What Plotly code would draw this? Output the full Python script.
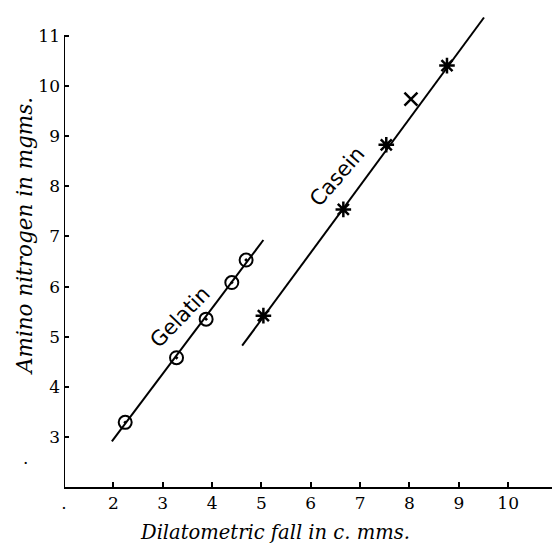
import plotly.graph_objects as go

# Gelatin observations
gelatin_x = [2.24, 3.28, 3.88, 4.40, 4.69]
gelatin_y = [3.29, 4.58, 5.35, 6.08, 6.53]
# Gelatin fitted line endpoints
gelatin_fit_x = [1.97, 5.04]
gelatin_fit_y = [2.91, 6.93]

# Casein observations
casein_x = [5.04, 6.66, 7.53, 8.03, 8.76]
casein_y = [5.42, 7.54, 8.83, 9.74, 10.41]
casein_symbols = ["asterisk-open", "asterisk-open", "asterisk-open", "x-thin-open", "asterisk-open"]
# Casein fitted line endpoints
casein_fit_x = [4.61, 9.51]
casein_fit_y = [4.82, 11.37]

x_ticks = [1, 2, 3, 4, 5, 6, 7, 8, 9, 10]
x_ticktext = [".", "2", "3", "4", "5", "6", "7", "8", "9", "10"]
y_ticks = [3, 4, 5, 6, 7, 8, 9, 10, 11]
y_ticktext = ["3", "4", "5", "6", "7", "8", "9", "10", "11"]

X_RANGE = [1, 11.05]
Y_RANGE = [2, 11.56]

serif = "DejaVu Serif"

fig = go.Figure()

fig.add_trace(go.Scatter(x=gelatin_fit_x, y=gelatin_fit_y, mode="lines",
                         line=dict(color="black", width=2), showlegend=False, hoverinfo="skip"))
fig.add_trace(go.Scatter(x=casein_fit_x, y=casein_fit_y, mode="lines",
                         line=dict(color="black", width=2), showlegend=False, hoverinfo="skip"))

fig.add_trace(go.Scatter(x=gelatin_x, y=gelatin_y, mode="markers", name="Gelatin",
                         marker=dict(symbol="circle-open-dot", size=13, color="black",
                                     line=dict(color="black", width=2)),
                         showlegend=False))
fig.add_trace(go.Scatter(x=casein_x, y=casein_y, mode="markers", name="Casein",
                         marker=dict(symbol=casein_symbols, size=13, color="black",
                                     line=dict(color="black", width=2.5)),
                         showlegend=False))

# y axis line stopping at 11
fig.add_shape(type="line", xref="x", yref="y", x0=1, x1=1, y0=Y_RANGE[0], y1=11,
              line=dict(color="black", width=2))

# curve labels
fig.add_annotation(x=3.35, y=5.40, xref="x", yref="y", text="Gelatin", showarrow=False,
                   textangle=-46, font=dict(family="DejaVu Sans", size=21, color="black"))
fig.add_annotation(x=6.55, y=8.20, xref="x", yref="y", text="Casein", showarrow=False,
                   textangle=-49, font=dict(family="DejaVu Sans", size=21, color="black"))

# axis titles
fig.add_annotation(x=0.425, y=-0.096, xref="paper", yref="paper",
                   text="<i>Dilatometric fall in c. mms.</i>", showarrow=False,
                   xanchor="center", yanchor="middle",
                   font=dict(family=serif, size=19.5, color="black"))
fig.add_annotation(x=-0.0806, y=0.524, xref="paper", yref="paper",
                   text="<i>Amino nitrogen in mgms.</i>", showarrow=False, textangle=-90,
                   xanchor="center", yanchor="middle",
                   font=dict(family=serif, size=21.5, color="black"))
# stray printed dot left of the axis
fig.add_annotation(x=-0.0867, y=0.036, xref="paper", yref="paper", text=".",
                   showarrow=False, font=dict(family=serif, size=17, color="black"))

fig.update_xaxes(range=X_RANGE, tickmode="array", tickvals=x_ticks, ticktext=x_ticktext,
                 ticks="inside", ticklen=5, tickwidth=2, tickcolor="black",
                 showline=True, linecolor="black", linewidth=2, showgrid=False, zeroline=False,
                 tickfont=dict(family=serif, size=17, color="black"))
fig.update_yaxes(range=Y_RANGE, tickmode="array", tickvals=y_ticks, ticktext=y_ticktext,
                 ticks="inside", ticklen=5, tickwidth=2, tickcolor="black",
                 showline=False, showgrid=False, zeroline=False, ticklabelstandoff=3,
                 tickfont=dict(family=serif, size=17, color="black"))

fig.update_layout(width=552, height=544, margin=dict(l=56, r=0, t=0, b=65),
                  plot_bgcolor="white", paper_bgcolor="white")

fig.write_html("out.html")
